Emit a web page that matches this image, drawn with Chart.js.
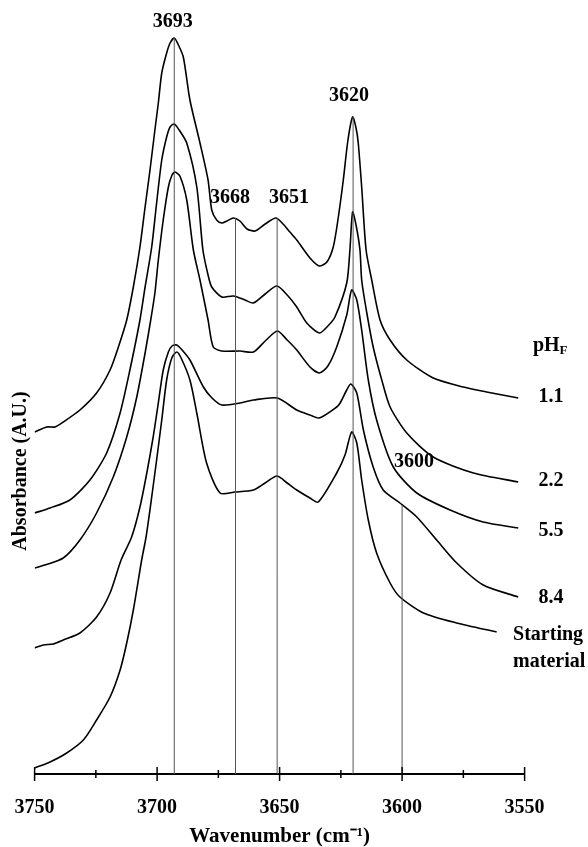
<!DOCTYPE html>
<html>
<head>
<meta charset="utf-8">
<script src="https://cdn.jsdelivr.net/npm/chart.js@4/dist/chart.umd.min.js"></script>
<style>
  html, body { margin: 0; padding: 0; background: #fff; }
  canvas { display: block; }
</style>
</head>
<body>
<canvas id="c" width="588" height="847"></canvas>
<script>
// ---- Data (wavenumber in cm-1, absorbance in arbitrary units, stacked traces) ----
const wn_pH11 = [3750, 3745.1, 3741.7, 3738.3, 3731.5, 3724.7, 3719.2, 3715.8, 3712.4, 3709.7, 3707.0, 3704.9, 3702.9, 3700.9, 3699.5, 3698.1, 3696.1, 3694.7, 3693.0, 3691.5, 3689.3, 3686.6, 3682.5, 3679.2, 3677.7, 3675.7, 3673.6, 3671.5, 3668.9, 3666.2, 3663.3, 3660.0, 3655.9, 3651.5, 3648.6, 3645.8, 3643.0, 3637.6, 3633.8, 3630.7, 3628.1, 3626.2, 3624.0, 3622.1, 3620.2, 3618.8, 3617.9, 3616.5, 3614.7, 3612.4, 3609.0, 3604.9, 3598.1, 3587.3, 3575.0, 3565.5, 3552.6];
const abs_pH11 = [3.42, 3.47, 3.47, 3.52, 3.64, 3.81, 4.04, 4.27, 4.54, 4.87, 5.27, 5.67, 6.04, 6.44, 6.71, 7.01, 7.21, 7.31, 7.36, 7.30, 7.17, 6.74, 6.31, 5.94, 5.64, 5.54, 5.51, 5.53, 5.56, 5.53, 5.45, 5.43, 5.50, 5.56, 5.50, 5.42, 5.34, 5.16, 5.08, 5.12, 5.27, 5.54, 5.94, 6.34, 6.57, 6.46, 6.31, 5.87, 5.24, 4.94, 4.54, 4.34, 4.14, 3.96, 3.87, 3.82, 3.76];

const wn_pH22 = [3750, 3743.7, 3735.6, 3727.4, 3720.6, 3715.1, 3711.1, 3707.0, 3704.9, 3702.2, 3700.2, 3698.1, 3696.1, 3694.7, 3693.0, 3691.0, 3687.9, 3683.8, 3681.3, 3679.2, 3677.7, 3673.6, 3668.9, 3664.1, 3660.7, 3655.9, 3651.1, 3646.9, 3643.0, 3638.9, 3633.8, 3630.3, 3627.4, 3622.6, 3621.3, 3620.2, 3618.8, 3617.2, 3616.5, 3614.4, 3611.8, 3608.3, 3604.9, 3598.1, 3587.3, 3570.9, 3552.6];
const abs_pH22 = [2.61, 2.66, 2.74, 2.94, 3.21, 3.61, 4.04, 4.54, 4.87, 5.27, 5.71, 6.14, 6.37, 6.47, 6.50, 6.44, 6.31, 5.87, 5.24, 4.99, 4.87, 4.77, 4.78, 4.74, 4.71, 4.80, 4.88, 4.79, 4.67, 4.51, 4.41, 4.48, 4.57, 4.91, 5.24, 5.62, 5.49, 5.24, 4.94, 4.61, 4.27, 3.94, 3.67, 3.41, 3.17, 3.01, 2.92];

const wn_pH55 = [3750, 3745.8, 3738.3, 3731.5, 3724.7, 3717.9, 3712.4, 3708.3, 3704.9, 3702.6, 3700.9, 3699.5, 3697.5, 3695.4, 3693.9, 3692.7, 3690.7, 3687.9, 3685.2, 3682.5, 3679.2, 3677.1, 3673.6, 3666.1, 3660.7, 3655.9, 3650.9, 3646.9, 3643.0, 3637.6, 3633.8, 3630.3, 3626.7, 3622.6, 3620.6, 3618.5, 3616.5, 3613.8, 3610.4, 3603.6, 3594.0, 3580.4, 3566.9, 3552.6];
const abs_pH55 = [2.06, 2.09, 2.16, 2.34, 2.61, 2.97, 3.37, 3.77, 4.21, 4.54, 4.81, 5.14, 5.54, 5.87, 5.99, 6.02, 5.98, 5.74, 5.24, 4.94, 4.54, 4.27, 4.23, 4.23, 4.22, 4.33, 4.43, 4.34, 4.24, 4.07, 4.01, 4.08, 4.27, 4.59, 4.84, 4.74, 4.44, 3.94, 3.54, 3.07, 2.81, 2.64, 2.52, 2.46];

const wn_pH84 = [3750, 3746.4, 3742.4, 3738.3, 3731.5, 3724.7, 3719.2, 3714.7, 3710.4, 3707.0, 3704.2, 3701.6, 3699.5, 3697.5, 3695.4, 3693.9, 3692.0, 3689.8, 3686.6, 3681.1, 3677.6, 3673.6, 3666.1, 3660.7, 3650.9, 3643.0, 3637.6, 3633.8, 3626.7, 3625.3, 3622.6, 3620.9, 3618.5, 3615.8, 3611.8, 3607.7, 3600.9, 3594.0, 3585.9, 3577.7, 3566.9, 3552.6];
const abs_pH84 = [1.26, 1.29, 1.30, 1.34, 1.41, 1.57, 1.81, 2.14, 2.37, 2.67, 3.01, 3.37, 3.71, 4.04, 4.22, 4.28, 4.29, 4.24, 4.14, 3.87, 3.76, 3.69, 3.71, 3.74, 3.76, 3.64, 3.59, 3.56, 3.67, 3.71, 3.84, 3.90, 3.81, 3.44, 3.07, 2.84, 2.71, 2.57, 2.34, 2.11, 1.89, 1.77];

const wn_start = [3750, 3743.7, 3736.9, 3730.1, 3724.7, 3719.2, 3715.1, 3712.4, 3709.7, 3706.3, 3704.5, 3702.2, 3700.2, 3698.1, 3696.1, 3694.0, 3692.0, 3690.2, 3686.6, 3683.8, 3679.8, 3674.3, 3668.2, 3660.7, 3655.9, 3651.1, 3646.9, 3643.0, 3637.6, 3634.2, 3626.7, 3623.3, 3620.6, 3618.5, 3616.5, 3613.8, 3610.4, 3604.9, 3600.9, 3591.3, 3577.7, 3561.4];
const abs_start = [0.06, 0.12, 0.21, 0.34, 0.54, 0.77, 1.04, 1.31, 1.64, 2.14, 2.37, 2.77, 3.14, 3.54, 3.94, 4.16, 4.22, 4.16, 3.94, 3.61, 3.11, 2.81, 2.82, 2.84, 2.91, 2.98, 2.91, 2.84, 2.76, 2.72, 3.01, 3.19, 3.42, 3.31, 2.94, 2.54, 2.21, 1.91, 1.77, 1.61, 1.51, 1.42];

// Marked band positions and the height each marker line reaches
const bandWn = [3693, 3668, 3651, 3620, 3600];
const bandTop = [7.36, 5.56, 5.56, 6.57, 2.69];
const bandText = ['3693', '3668', '3651', '3620', '3600'];
const bandTextWn = [3693.6, 3670.2, 3646.2, 3621.7, 3595.1];
const bandTextAbs = [7.52, 5.76, 5.76, 6.78, 3.12];

// Trace names (pH_F values) and where the names sit
const traceNames = ['1.1', '2.2', '5.5', '8.4'];
const traceNameWn = [3539.2, 3539.2, 3539.2, 3539.2];
const traceNameAbs = [3.77, 2.93, 2.43, 1.76];
const startName = ['Starting', 'material'];
const startNameWn = 3554.7;
const startNameAbs = [1.39, 1.12];
const phHeaderWn = 3546.6;
const phHeaderAbs = 4.28;

// x-axis tick values
const majorTicks = [3750, 3700, 3650, 3600, 3550];
const minorTicks = [3725, 3675, 3625, 3575];

// ---- Build datasets ----
const zip = (xs, ys) => xs.map((x, i) => ({ x: x, y: ys[i] }));
const traceStyle = { borderColor: '#000', borderWidth: 1.6, pointRadius: 0, tension: 0.25, fill: false };

const datasets = [];
bandWn.forEach((w, i) => {
  datasets.push({ data: [{ x: w, y: 0 }, { x: w, y: bandTop[i] }], borderColor: '#555', borderWidth: 1, pointRadius: 0, fill: false });
});
[[wn_pH11, abs_pH11], [wn_pH22, abs_pH22], [wn_pH55, abs_pH55], [wn_pH84, abs_pH84], [wn_start, abs_start]].forEach(([w, a]) => {
  datasets.push(Object.assign({ data: zip(w, a) }, traceStyle));
});

const FONT = "'Liberation Serif', 'Times New Roman', serif";

const annotations = {
  id: 'annotations',
  afterDraw(chart) {
    const ctx = chart.ctx;
    const xs = chart.scales.x, ys = chart.scales.y;
    const y0 = ys.getPixelForValue(0);
    ctx.save();
    // tick marks crossing the axis
    ctx.strokeStyle = '#000';
    ctx.lineWidth = 1.5;
    majorTicks.forEach(w => {
      const px = xs.getPixelForValue(w);
      ctx.beginPath(); ctx.moveTo(px, y0 - 7); ctx.lineTo(px, y0 + 7); ctx.stroke();
    });
    minorTicks.forEach(w => {
      const px = xs.getPixelForValue(w);
      ctx.beginPath(); ctx.moveTo(px, y0 - 4); ctx.lineTo(px, y0 + 4); ctx.stroke();
    });

    ctx.fillStyle = '#000';
    ctx.font = 'bold 20px ' + FONT;
    ctx.textAlign = 'center';
    ctx.textBaseline = 'middle';
    bandText.forEach((t, i) => {
      ctx.fillText(t, xs.getPixelForValue(bandTextWn[i]), ys.getPixelForValue(bandTextAbs[i]));
    });
    traceNames.forEach((t, i) => {
      ctx.fillText(t, xs.getPixelForValue(traceNameWn[i]), ys.getPixelForValue(traceNameAbs[i]));
    });
    ctx.textAlign = 'left';
    startName.forEach((t, i) => {
      ctx.fillText(t, xs.getPixelForValue(startNameWn), ys.getPixelForValue(startNameAbs[i]));
    });
    // pH_F header
    const hx = xs.getPixelForValue(phHeaderWn), hy = ys.getPixelForValue(phHeaderAbs);
    ctx.fillText('pH', hx, hy);
    const pw = ctx.measureText('pH').width;
    ctx.font = 'bold 13px ' + FONT;
    ctx.fillText('F', hx + pw, hy + 5);

    // y-axis title
    ctx.font = 'bold 20px ' + FONT;
    ctx.textAlign = 'center';
    ctx.translate(21, ys.getPixelForValue(3.03));
    ctx.rotate(-Math.PI / 2);
    ctx.fillText('Absorbance (A.U.)', 0, 0);
    ctx.restore();
  }
};

new Chart(document.getElementById('c'), {
  type: 'line',
  data: { datasets: datasets },
  options: {
    responsive: false,
    devicePixelRatio: 1,
    animation: false,
    layout: { padding: { left: 34.6, right: 63.4, top: 24, bottom: 0 } },
    plugins: { legend: { display: false }, tooltip: { enabled: false } },
    scales: {
      x: {
        type: 'linear',
        reverse: true,
        min: 3550,
        max: 3750,
        afterFit: (scale) => { scale.height = 73; },
        grid: { display: false, drawTicks: false },
        border: { display: true, color: '#000', width: 2 },
        ticks: {
          stepSize: 50,
          autoSkip: false,
          maxRotation: 0,
          padding: 0,
          color: '#000',
          callback: (v) => String(v),
          font: { family: FONT, size: 20, weight: 'bold', lineHeight: 3.4 }
        },
        title: {
          display: true,
          text: 'Wavenumber (cm\u207B\u00B9)',
          color: '#000',
          font: { family: FONT, size: 21, weight: 'bold', lineHeight: 1 },
          padding: { top: 6, bottom: 0 }
        }
      },
      y: {
        display: false,
        min: 0,
        max: 7.5
      }
    }
  },
  plugins: [annotations]
});
</script>
</body>
</html>
